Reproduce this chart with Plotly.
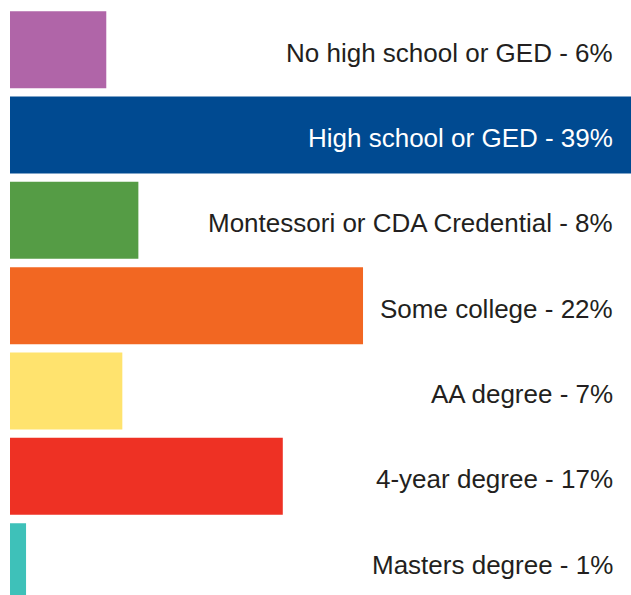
import plotly.graph_objects as go

categories = [
    "No high school or GED",
    "High school or GED",
    "Montessori or CDA Credential",
    "Some college",
    "AA degree",
    "4-year degree",
    "Masters degree",
]
percents = [6, 39, 8, 22, 7, 17, 1]
bar_colors = ["#B065A8", "#004A91", "#559C45", "#F26722", "#FFE36E", "#EE3124", "#3EC1B9"]
text_colors = ["#231F20", "#FFFFFF", "#231F20", "#231F20", "#231F20", "#231F20", "#231F20"]

positions = list(range(len(categories)))

fig = go.Figure()
fig.add_trace(
    go.Bar(
        x=percents,
        y=positions,
        orientation="h",
        marker=dict(color=bar_colors, line=dict(width=0)),
        hoverinfo="skip",
        showlegend=False,
    )
)

# labels sit at a fixed right edge, not at the bar ends
for pos, cat, pct, tc in zip(positions, categories, percents, text_colors):
    fig.add_annotation(
        x=0.974,
        xref="paper",
        y=pos,
        yref="y",
        text=f"{cat} - {pct}%",
        xanchor="right",
        yanchor="middle",
        yshift=-3,
        showarrow=False,
        font=dict(family="Liberation Sans, Arial, sans-serif", size=26, color=tc),
    )

fig.update_layout(
    width=631,
    height=595,
    margin=dict(l=10, r=0, t=0, b=0),
    paper_bgcolor="white",
    plot_bgcolor="white",
    bargap=0.098,
)
# the longest bar and the last row run off the edges, as in the original
fig.update_xaxes(range=[0, 38.7], visible=False, fixedrange=True)
fig.update_yaxes(range=[6.391, -0.582], visible=False, fixedrange=True)

# drop the page margin and scrollbars so the figure fills the window
fig.write_html(
    "out.html",
    config={"displayModeBar": False},
    post_script="document.body.style.margin='0';document.documentElement.style.overflow='hidden';",
)
